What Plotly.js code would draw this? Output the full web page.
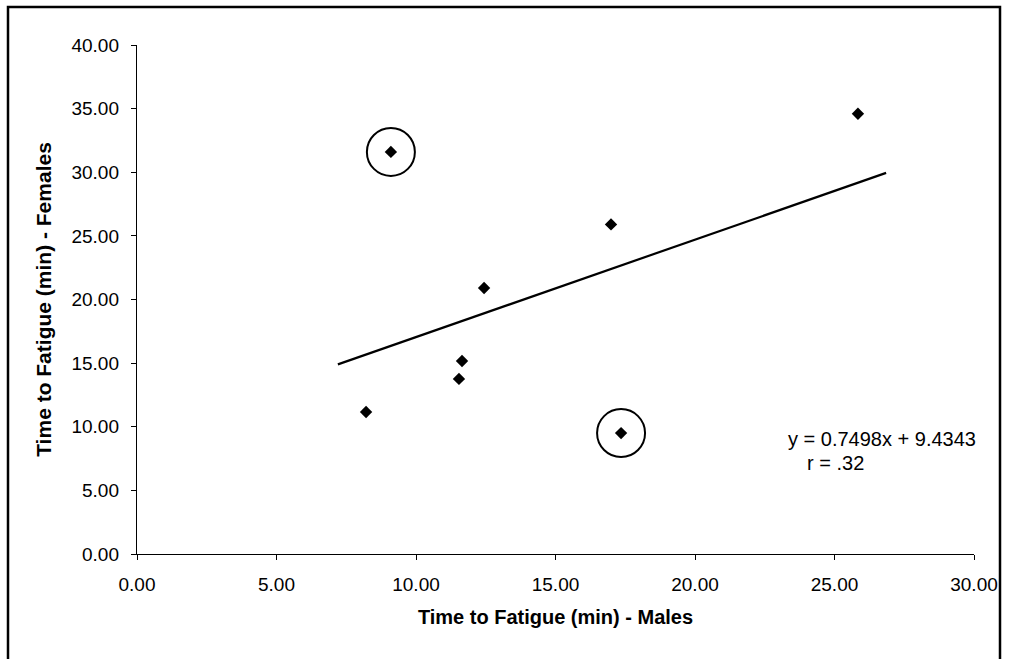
<!DOCTYPE html>
<html>
<head>
<meta charset="utf-8">
<script src="https://cdn.plot.ly/plotly-3.0.1.min.js"></script>
<style>html,body{margin:0;padding:0;background:#fff;}#chart{width:1009px;height:659px;}</style>
</head>
<body>
<div id="chart"></div>
<script>
// Data
var malesTime   = [9.1, 25.84, 16.99, 12.44, 11.65, 11.54, 8.21, 17.35];
var femalesTime = [31.6, 34.6, 25.9, 20.9, 15.17, 13.76, 11.16, 9.5];
var circledX = [9.1, 17.35];
var circledY = [31.6, 9.5];
var trendX = [7.2, 26.85];
var trendY = [14.9, 29.95];
var xTicks = [0, 5, 10, 15, 20, 25, 30];
var yTicks = [0, 5, 10, 15, 20, 25, 30, 35, 40];
var equationText = 'y = 0.7498x + 9.4343';
var rText = 'r = .32';

var FONT = 'Liberation Sans, Arial, sans-serif';

var traces = [
  {x: trendX, y: trendY, type: 'scatter', mode: 'lines',
   line: {color: '#000', width: 2.2}, hoverinfo: 'skip'},
  {x: malesTime, y: femalesTime, type: 'scatter', mode: 'markers',
   marker: {symbol: 'diamond', size: 9.5, color: '#000'}},
  {x: circledX, y: circledY, type: 'scatter', mode: 'markers',
   marker: {symbol: 'circle-open', size: 48, color: '#000', line: {color: '#000', width: 2}}}
];

var layout = {
  width: 1009, height: 659,
  margin: {l: 137, r: 35, t: 45, b: 105},
  paper_bgcolor: '#fff', plot_bgcolor: '#fff',
  showlegend: false,
  font: {family: FONT, color: '#000', size: 19},
  xaxis: {
    range: [0, 30], tickvals: xTicks, ticktext: xTicks.map(function(v){return v.toFixed(2);}),
    showgrid: false, zeroline: false, showline: true, linecolor: '#000', linewidth: 1.2,
    ticks: 'outside', ticklen: 5, tickcolor: '#000', ticklabelstandoff: 8,
    tickfont: {family: FONT, size: 19, color: '#000'},
    title: {text: '<b>Time to Fatigue (min) - Males</b>', font: {family: FONT, size: 20, color: '#000'}, standoff: 16}
  },
  yaxis: {
    range: [0, 40], tickvals: yTicks, ticktext: yTicks.map(function(v){return v.toFixed(2);}),
    showgrid: false, zeroline: false, showline: true, linecolor: '#000', linewidth: 1.2,
    ticks: 'outside', ticklen: 5, tickcolor: '#000', ticklabelstandoff: 8,
    tickfont: {family: FONT, size: 19, color: '#000'},
    title: {text: '<b>Time to Fatigue (min) - Females</b>', font: {family: FONT, size: 21, color: '#000'}, standoff: 14}
  },
  annotations: [
    {xref: 'paper', yref: 'paper', x: (786 - 137) / 837, y: (554 - 439) / 509, xanchor: 'left', yanchor: 'middle',
     text: equationText, showarrow: false, font: {family: FONT, size: 20, color: '#000'}},
    {xref: 'paper', yref: 'paper', x: (805 - 137) / 837, y: (554 - 463) / 509, xanchor: 'left', yanchor: 'middle',
     text: rText, showarrow: false, font: {family: FONT, size: 20, color: '#000'}}
  ],
  shapes: [
    {type: 'rect', xref: 'paper', yref: 'paper',
     x0: (8 - 137) / 837, x1: (1000 - 137) / 837,
     y0: (554 - 700) / 509, y1: (554 - 7) / 509,
     line: {color: '#000', width: 2.5}, fillcolor: 'rgba(0,0,0,0)', layer: 'below'}
  ]
};

Plotly.newPlot('chart', traces, layout, {displayModeBar: false, staticPlot: true});
</script>
</body>
</html>
